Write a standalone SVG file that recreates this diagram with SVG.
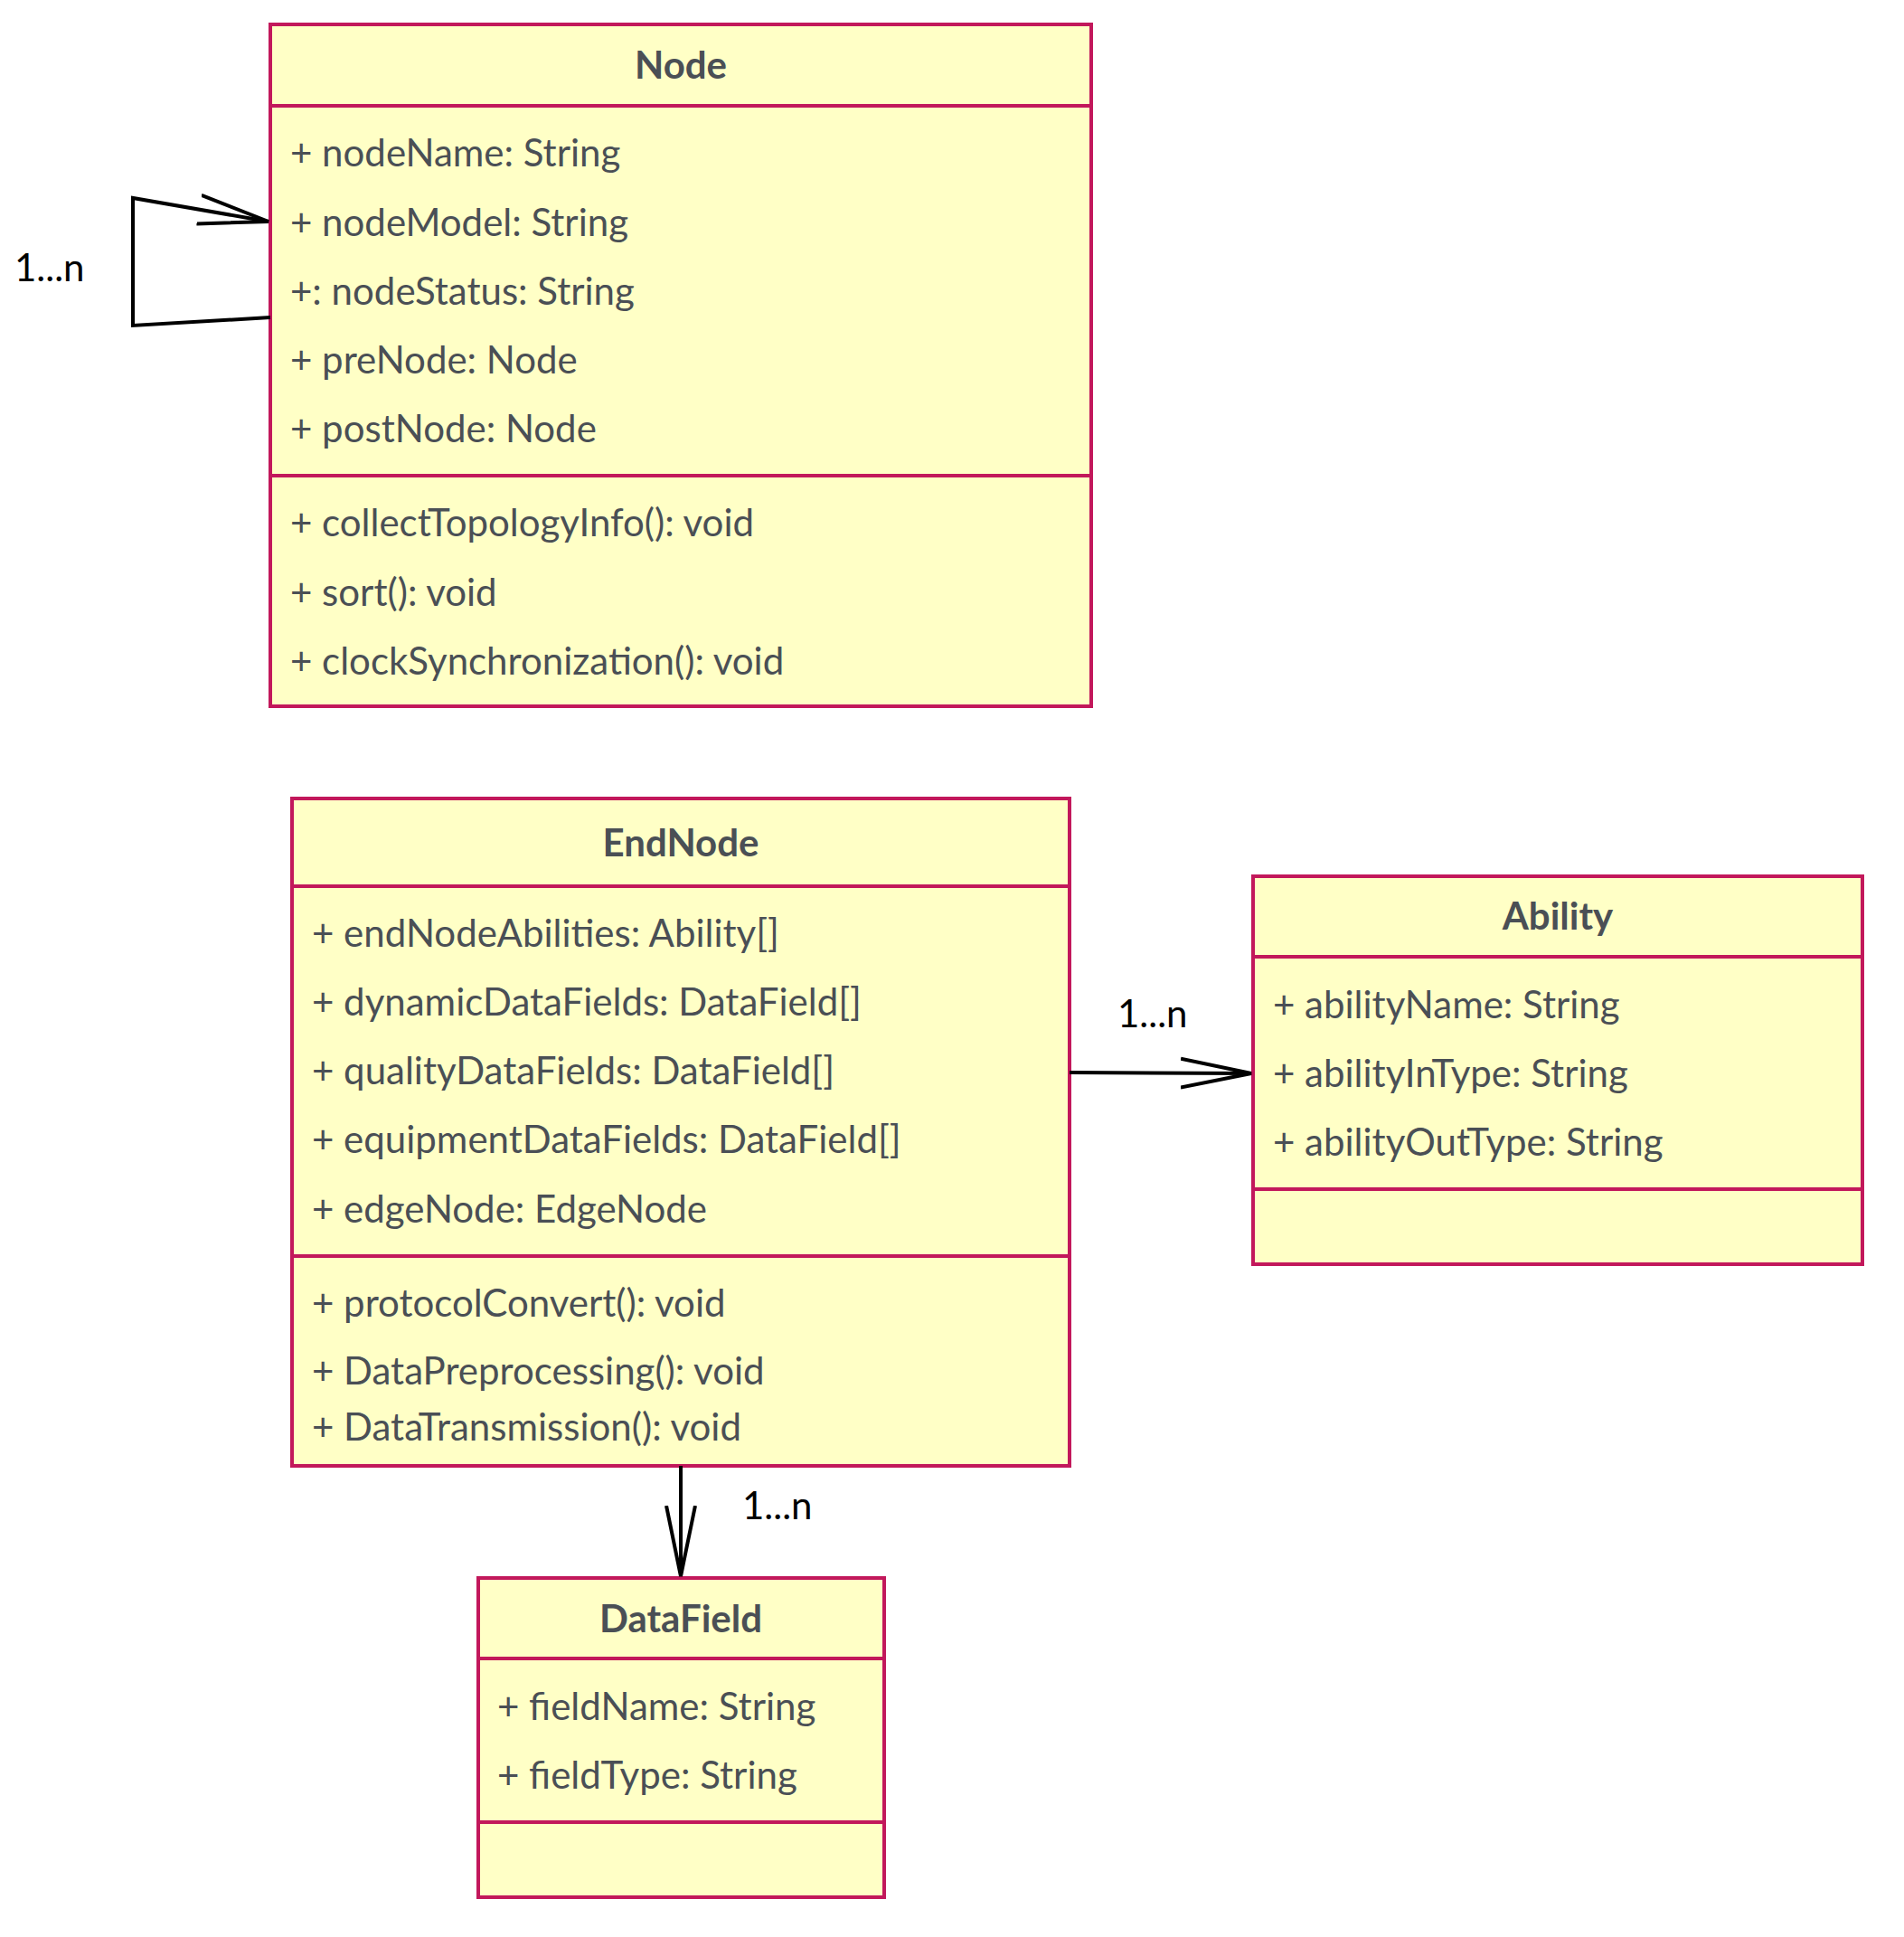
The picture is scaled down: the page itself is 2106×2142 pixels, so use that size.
<svg xmlns="http://www.w3.org/2000/svg" width="2106" height="2142" viewBox="0 0 2106 2142">
<style>
.box{fill:#ffffc6;stroke:#c2185b;stroke-width:4}
.ln{stroke:#c2185b;stroke-width:4}
.t{font-family:"Lato","Liberation Sans",sans-serif;font-size:42px;fill:#4a4f55;dominant-baseline:central}
.h{font-family:"Lato","Liberation Sans",sans-serif;font-size:42px;font-weight:bold;fill:#4a4f55;text-anchor:middle;dominant-baseline:central}
.c{fill:none;stroke:#000;stroke-width:4}
.l{font-family:"Lato","Liberation Sans",sans-serif;font-size:42px;fill:#000;dominant-baseline:central}
</style>
<defs><marker id="a" viewBox="0 0 20 20" refX="19" refY="10" markerWidth="20" markerHeight="20" markerUnits="userSpaceOnUse" orient="auto"><path d="M0,0 L19,10 L0,20" fill="none" stroke="#000" stroke-width="3"/></marker>
<marker id="b" viewBox="0 0 80 40" refX="78" refY="20" markerWidth="80" markerHeight="40" markerUnits="userSpaceOnUse" orient="auto"><path d="M0,4 L78,20 L0,36" fill="none" stroke="#000" stroke-width="4"/></marker></defs>
<rect width="2106" height="2142" fill="#fff"/>
<g id="Node">
<rect class="box" x="299" y="27" width="908" height="754"/>
<line class="ln" x1="299" y1="117" x2="1207" y2="117"/><line class="ln" x1="299" y1="526" x2="1207" y2="526"/>
<text class="h" x="753" y="71">Node</text>
<text class="t" x="321" y="168">+ nodeName: String</text>
<text class="t" x="321" y="245">+ nodeModel: String</text>
<text class="t" x="321" y="321">+: nodeStatus: String</text>
<text class="t" x="321" y="397">+ preNode: Node</text>
<text class="t" x="321" y="473">+ postNode: Node</text>
<text class="t" x="321" y="577">+ collectTopologyInfo(): void</text>
<text class="t" x="321" y="654">+ sort(): void</text>
<text class="t" x="321" y="730">+ clockSynchronization(): void</text>
</g>
<g id="EndNode">
<rect class="box" x="323" y="883" width="860" height="738"/>
<line class="ln" x1="323" y1="980" x2="1183" y2="980"/><line class="ln" x1="323" y1="1389" x2="1183" y2="1389"/>
<text class="h" x="753" y="931">EndNode</text>
<text class="t" x="345" y="1031">+ endNodeAbilities: Ability[]</text>
<text class="t" x="345" y="1107">+ dynamicDataFields: DataField[]</text>
<text class="t" x="345" y="1183">+ qualityDataFields: DataField[]</text>
<text class="t" x="345" y="1259">+ equipmentDataFields: DataField[]</text>
<text class="t" x="345" y="1336">+ edgeNode: EdgeNode</text>
<text class="t" x="345" y="1440">+ protocolConvert(): void</text>
<text class="t" x="345" y="1515">+ DataPreprocessing(): void</text>
<text class="t" x="345" y="1577">+ DataTransmission(): void</text>
</g>
<g id="Ability">
<rect class="box" x="1386" y="969" width="674" height="429"/>
<line class="ln" x1="1386" y1="1058" x2="2060" y2="1058"/><line class="ln" x1="1386" y1="1315" x2="2060" y2="1315"/>
<text class="h" x="1723" y="1012">Ability</text>
<text class="t" x="1408" y="1110">+ abilityName: String</text>
<text class="t" x="1408" y="1186">+ abilityInType: String</text>
<text class="t" x="1408" y="1262">+ abilityOutType: String</text>
</g>
<g id="DataField">
<rect class="box" x="529" y="1745" width="449" height="353"/>
<line class="ln" x1="529" y1="1834" x2="978" y2="1834"/><line class="ln" x1="529" y1="2015" x2="978" y2="2015"/>
<text class="h" x="753" y="1789">DataField</text>
<text class="t" x="550" y="1886">+ fieldName: String</text>
<text class="t" x="550" y="1962">+ fieldType: String</text>
</g>
<g id="connectors">
<path class="c" d="M299,351 L147,360 L147,219 L297,245" marker-end="url(#b)"/>
<text class="l" x="16" y="295">1...n</text>
<path class="c" d="M1183,1186 L1384,1187" marker-end="url(#b)"/>
<text class="l" x="1236" y="1120">1...n</text>
<path class="c" d="M753,1621 L753,1743" marker-end="url(#b)"/>
<text class="l" x="821" y="1664">1...n</text>
</g>
</svg>
